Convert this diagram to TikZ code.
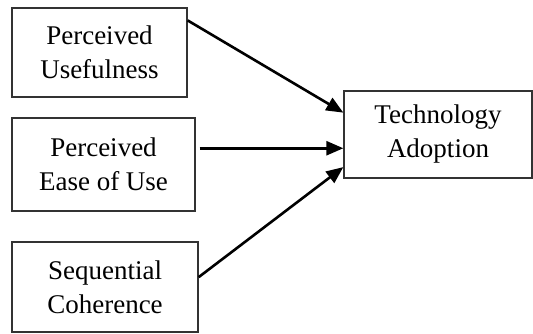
\documentclass[tikz,border=0pt]{standalone}
\usepackage{fontspec}
\setmainfont{Liberation Serif}
\usetikzlibrary{arrows.meta}
\tikzset{
  factor/.style={draw=black!80, line width=1.3pt, inner sep=0pt, align=center,
    font=\fontsize{27}{34}\selectfont},
  link/.style={-{Triangle[length=17pt,width=14pt]}, line width=2.6pt}
}
\begin{document}
\begin{tikzpicture}[x=1pt,y=-1pt]
  \useasboundingbox (0,0) rectangle (533,334);
  \node[factor, minimum width=175pt, minimum height=89pt] (pu) at (99.5,52.5) {Perceived\\Usefulness};
  \node[factor, minimum width=183pt, minimum height=93pt] (peou) at (103.5,164.5) {Perceived\\Ease of Use};
  \node[factor, minimum width=186pt, minimum height=90pt] (sc) at (105,287) {Sequential\\Coherence};
  \node[factor, minimum width=188pt, minimum height=87pt] (ta) at (438,134.5) {Technology\\Adoption};
  \draw[link] (pu.20) -- (ta.167);
  \draw[link] ([xshift=4pt]peou.10) -- (ta.west |- peou.10);
  \draw[link] (sc.6) -- (ta.199);
\end{tikzpicture}
\end{document}
